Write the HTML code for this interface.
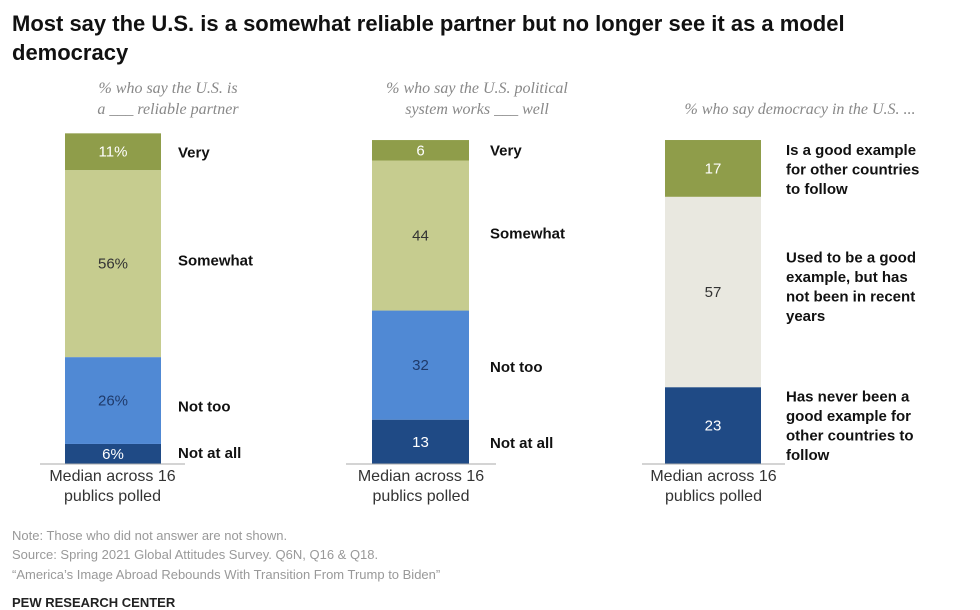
<!DOCTYPE html>
<html><head><meta charset="utf-8"><style>
body{margin:0;width:980px;height:610px;background:#fff;overflow:hidden;font-family:"Liberation Sans",sans-serif;}
svg{display:block}
.t{font-weight:bold;font-size:22px;fill:#111}
.sub{font-family:"Liberation Serif",serif;font-style:italic;font-size:16px;fill:#888}
.lab{font-weight:bold;font-size:15px;fill:#111}
.val{font-size:15px}
.med{font-size:16px;fill:#333}
.foot{font-size:13px;fill:#999}
</style></head><body>
<svg width="980" height="610">
<text class="t" x="12" y="31">Most say the U.S. is a somewhat reliable partner but no longer see it as a model</text>
<text class="t" x="12" y="60">democracy</text>
<text class="sub" text-anchor="middle" x="168" y="93">% who say the U.S. is</text>
<text class="sub" text-anchor="middle" x="168" y="114">a ___ reliable partner</text>
<text class="sub" text-anchor="middle" x="477" y="93">% who say the U.S. political</text>
<text class="sub" text-anchor="middle" x="477" y="114">system works ___ well</text>
<text class="sub" text-anchor="middle" x="800" y="114">% who say democracy in the U.S. ...</text>
<g id="bars"></g>
<text class="foot" x="12" y="540">Note: Those who did not answer are not shown.</text>
<text class="foot" x="12" y="559">Source: Spring 2021 Global Attitudes Survey. Q6N, Q16 &amp; Q18.</text>
<text class="foot" x="12" y="579">“America’s Image Abroad Rebounds With Transition From Trump to Biden”</text>
<text x="12" y="607" font-weight="bold" font-size="13" fill="#222">PEW RESEARCH CENTER</text>
</svg>
<script>
const chart1Values=[6,26,56,11];
const chart1Texts=["6%","26%","56%","11%"];
const chart1Labels=[["Not at all"],["Not too"],["Somewhat"],["Very"]];
const chart2Values=[13,32,44,6];
const chart2Texts=["13","32","44","6"];
const chart2Labels=[["Not at all"],["Not too"],["Somewhat"],["Very"]];
const chart3Values=[23,57,17];
const chart3Texts=["23","57","17"];
const chart3Labels=[["Has never been a","good example for","other countries to","follow"],["Used to be a good","example, but has","not been in recent","years"],["Is a good example","for other countries","to follow"]];
const NS="http://www.w3.org/2000/svg";
const g=document.getElementById('bars');
const base=464;
function mk(t,a){const e=document.createElementNS(NS,t);for(const k in a)e.setAttribute(k,a[k]);g.appendChild(e);return e;}
function draw(vals,texts,labels,x,w,lx,fills,tcol,lineX1,lineX2,offs,unit){
  const y=v=>base-v*unit;
  let cum=0;
  vals.forEach((v,i)=>{
    const y0=y(cum+v),h=v*unit;
    const r=mk('rect',{x:x,y:y0,width:w,height:h,fill:fills[i]});
    
    
    const t=mk('text',{x:x+w/2,y:y0+h/2+5,'text-anchor':'middle',class:'val',fill:tcol[i]});
    t.textContent=texts[i];
    
    
    const L=labels[i];const cy=y0+h/2+(offs?offs[i]:0);
    L.forEach((s,j)=>{
      const lt=mk('text',{x:lx,y:cy+5+(j-(L.length-1)/2)*19.5,class:'lab'});
      lt.textContent=s;
      
      
    });
    cum+=v;
  });
  const ln=mk('line',{x1:lineX1,x2:lineX2,y1:base,y2:base,stroke:'#aaa','stroke-width':1});
  
  
  ['Median across 16','publics polled'].forEach((s,j)=>{
    const m=mk('text',{x:(lineX1+lineX2)/2,y:481+j*20,'text-anchor':'middle',class:'med'});
    m.textContent=s;
    
    
  });
}
const f4=['#1f4a85','#5089d4','#c6cc8f','#8f9d4a'];
const c4=['#fff','#1f3a6a','#333','#fff'];
draw(chart1Values,chart1Texts,chart1Labels,65,96,178,f4,c4,40,185,[-1,6,-3,1],3.34);
draw(chart2Values,chart2Texts,chart2Labels,372,97,490,f4,c4,346,496,[1,2,-2,0],3.41);
draw(chart3Values,chart3Texts,chart3Labels,665,96,786,['#1f4a85','#e9e8e0','#8f9d4a'],['#fff','#333','#fff'],642,785,[0,-5,1],3.34);
</script>
</body></html>
